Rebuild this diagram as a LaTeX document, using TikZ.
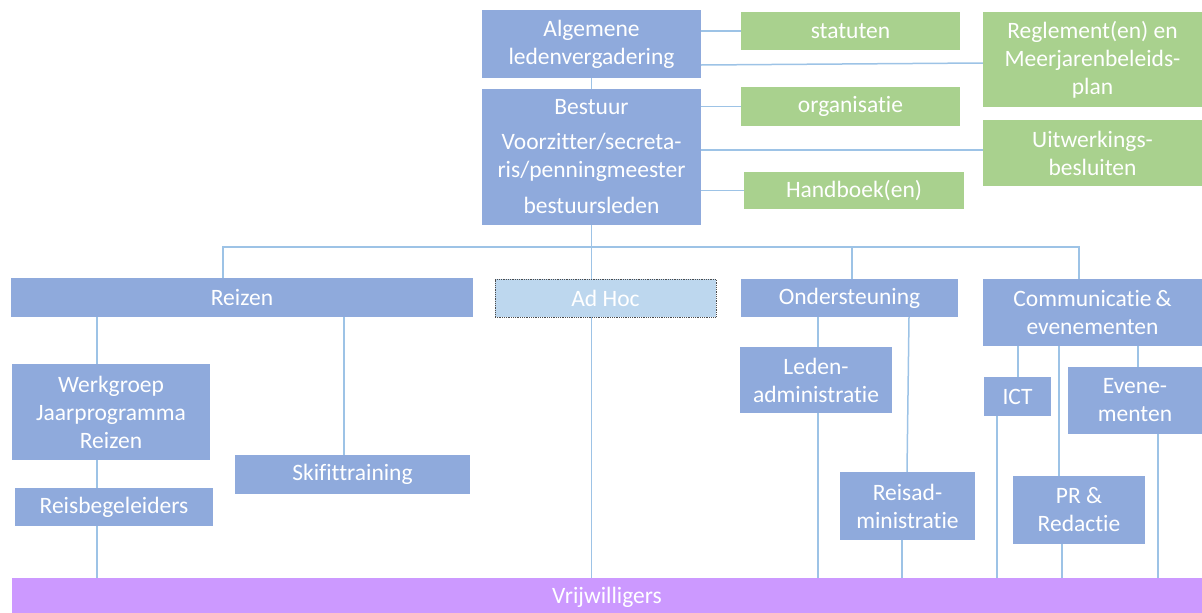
\documentclass[tikz,border=0pt]{standalone}
\usepackage{fontspec}
\setmainfont{Carlito}[Ligatures=NoCommon]
\usetikzlibrary{backgrounds}
\definecolor{boxblue}{RGB}{143,170,220}
\definecolor{boxgreen}{RGB}{169,209,142}
\definecolor{boxpurple}{RGB}{204,153,255}
\definecolor{adhocblue}{RGB}{189,215,238}
\definecolor{connblue}{RGB}{157,195,230}
\begin{document}
\begin{tikzpicture}[x=1pt, y=-1pt,
    box/.style={fill=boxblue, text=white, inner sep=0pt, align=center,
        font=\fontsize{23.5}{28}\selectfont},
    greenbox/.style={box, fill=boxgreen},
    conn/.style={connblue, line width=1.5pt}]
    \useasboundingbox (0,0) rectangle (1202,613);

    \node[box, minimum width=219pt, minimum height=68pt] (alv) at (591.5,44) {Algemene\\ledenvergadering};
    \node[box, minimum width=219pt, minimum height=136pt] (bestuur) at (591.5,157) {Bestuur\\[7pt]Voorzitter/secreta-\\ris/penningmeester\\[8pt]bestuursleden};
    \node[greenbox, minimum width=219pt, minimum height=38pt] (statuten) at (850.5,31) {statuten};
    \node[greenbox, minimum width=219pt, minimum height=39pt] (org) at (850.5,106.5) {organisatie};
    \node[greenbox, minimum width=220pt, minimum height=37pt] (hand) at (854,190.5) {Handboek(en)};
    \node[greenbox, minimum width=219pt, minimum height=95pt] (regl) at (1092.5,59.5) {Reglement(en) en\\Meerjarenbeleids-\\plan};
    \node[greenbox, minimum width=219pt, minimum height=66pt] (uitw) at (1092.5,153) {Uitwerkings-\\besluiten};

    \node[box, minimum width=462pt, minimum height=39pt] (reizen) at (242,297.5) {Reizen};
    \node[box, fill=adhocblue, draw=black!70, densely dotted, line width=0.8pt, minimum width=221pt, minimum height=38pt] (adhoc) at (605.5,298) {Ad Hoc};
    \node[box, minimum width=217pt, minimum height=38pt] (ond) at (849.5,298) {Ondersteuning};
    \node[box, minimum width=219pt, minimum height=67pt] (comm) at (1092.5,312.5) {Communicatie\,\&\\evenementen};

    \node[box, minimum width=198pt, minimum height=96pt] (werk) at (111,412) {Werkgroep\\Jaarprogramma\\Reizen};
    \node[box, minimum width=198pt, minimum height=38pt] (reisbeg) at (114,507) {Reisbegeleiders};
    \node[box, minimum width=235pt, minimum height=39pt] (skifit) at (352.5,474.5) {Skifittraining};
    \node[box, minimum width=152pt, minimum height=66pt] (leden) at (816,380) {Leden-\\administratie};
    \node[box, minimum width=135pt, minimum height=68pt] (reisad) at (907.5,506) {Reisad-\\ministratie};
    \node[box, minimum width=67pt, minimum height=39pt] (ict) at (1017.5,396.5) {ICT};
    \node[box, minimum width=134pt, minimum height=67pt] (even) at (1135,400.5) {Evene-\\menten};
    \node[box, minimum width=132pt, minimum height=68pt] (pr) at (1079,510) {PR \&\\Redactie};

    \node[box, fill=boxpurple, minimum width=1190pt, minimum height=35pt] (vrij) at (607,595.5) {\raisebox{-7.5pt}[0pt][0pt]{Vrijwilligers}};

    \coordinate (busL) at (223,247);
    \coordinate (busR) at (1079,247);

    \begin{pgfonlayer}{background}
        \draw[conn] (alv) -- (bestuur);
        \draw[conn] (bestuur) -- (vrij.north -| bestuur);
        \draw[conn] (alv.east |- statuten) -- (statuten.west);
        \draw[conn] (alv.east |- 0,65) -- (regl.west |- 0,63);
        \draw[conn] (bestuur.east |- org) -- (org.west);
        \draw[conn] (bestuur.east |- 0,150) -- (uitw.west |- 0,150);
        \draw[conn] (bestuur.east |- hand) -- (hand.west);

        \draw[conn] (reizen.north -| busL) -- (busL) -- (busR) -- (comm.north -| busR);
        \draw[conn] (ond.north -| 852,0) -- (busL -| 852,0);

        \draw[conn] (reizen.south -| 97,0) -- (werk.north -| 97,0);
        \draw[conn] (werk.south -| 97,0) -- (reisbeg.north -| 97,0);
        \draw[conn] (reisbeg.south -| 97,0) -- (vrij.north -| 97,0);
        \draw[conn] (reizen.south -| 344,0) -- (skifit.north -| 344,0);

        \draw[conn] (ond.south -| 818,0) -- (leden.north -| 818,0);
        \draw[conn] (leden.south -| 818,0) -- (vrij.north -| 818,0);
        \draw[conn] (ond.south -| 909,0) -- (reisad.north -| 907,0);
        \draw[conn] (reisad.south -| 902,0) -- (vrij.north -| 902,0);

        \draw[conn] (comm.south -| 1018,0) -- (ict.north -| 1018,0);
        \draw[conn] (ict.south -| 997,0) -- (vrij.north -| 997,0);
        \draw[conn] (comm.south -| 1059,0) -- (pr.north -| 1059,0);
        \draw[conn] (pr.south -| 1062,0) -- (vrij.north -| 1062,0);
        \draw[conn] (comm.south -| 1138,0) -- (even.north -| 1138,0);
        \draw[conn] (even.south -| 1158,0) -- (vrij.north -| 1158,0);
    \end{pgfonlayer}
\end{tikzpicture}
\end{document}
